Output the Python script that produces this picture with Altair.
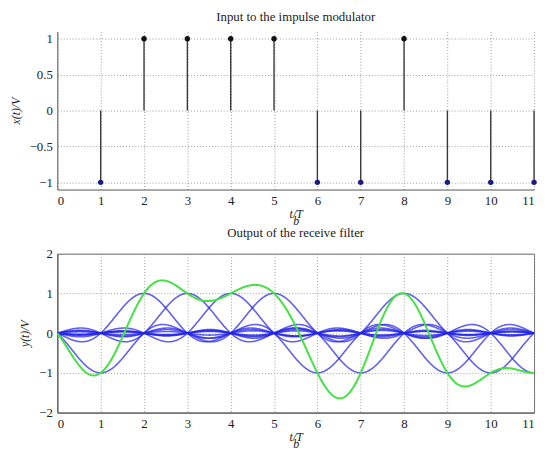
import altair as alt
import numpy as np
import pandas as pd

# ---- data ----
symbol_times = [1, 2, 3, 4, 5, 6, 7, 8, 9, 10, 11]
symbols = [-1, 1, 1, 1, 1, -1, -1, 1, -1, -1, -1]
x_ticks = [0, 1, 2, 3, 4, 5, 6, 7, 8, 9, 10, 11]
y_ticks_top = [-1, -0.5, 0, 0.5, 1]
y_ticks_bottom = [-2, -1, 0, 1, 2]

# receive-filter output: each symbol drives an ideal (sinc) pulse; the green curve is their sum
t_grid = np.round(np.linspace(0, 11, 1101), 4)
pulse_rows = []
total = np.zeros_like(t_grid)
for k, a in zip(symbol_times, symbols):
    p = a * np.sinc(t_grid - k)
    total += p
    pulse_rows.append(pd.DataFrame({"t": t_grid, "y": p, "k": k}))
df_pulses = pd.concat(pulse_rows, ignore_index=True)
df_sum = pd.DataFrame({"t": t_grid, "y": total})
df_sym = pd.DataFrame({"t": symbol_times, "a": symbols, "zero": 0})

FONT = "Liberation Serif"
xscale = alt.Scale(domain=[0, 11], nice=False, zero=False)

def xaxis(title):
    return alt.Axis(values=x_ticks, tickCount=len(x_ticks), title=title, format="d", grid=True,
                    titleLineHeight=7, titlePadding=1, labelPadding=5)

def yaxis(vals, title):
    return alt.Axis(values=vals, tickCount=len(vals), title=title, grid=True, titlePadding=7,
                    labelExpr="replace(datum.value + '', '-', '\u2212')", labelOverlap=False)

xtitle = ["t/T", "\u00a0\u00a0\u00a0\u00a0\u00a0b"]

# ---- top panel ----
ytop = alt.Scale(domain=[-1.1, 1.1], nice=False)
stems = alt.Chart(df_sym).mark_rule(color="#3a3a3a", strokeWidth=1.4).encode(
    x=alt.X("t:Q", scale=xscale, axis=xaxis(xtitle)),
    y=alt.Y("zero:Q", scale=ytop, axis=yaxis(y_ticks_top, "x(t)/V")),
    y2="a:Q",
)
heads = alt.Chart(df_sym).mark_circle(size=30, opacity=1).encode(
    x=alt.X("t:Q", scale=xscale),
    y=alt.Y("a:Q", scale=ytop),
    color=alt.Color("a:N", scale=alt.Scale(domain=[-1, 1], range=["#1c1c80", "#111111"]), legend=None),
)
top = alt.layer(stems, heads).properties(
    width=483, height=160,
    title=alt.TitleParams("Input to the impulse modulator", offset=8),
)

# ---- bottom panel ----
ybot = alt.Scale(domain=[-2, 2], nice=False)
pulses = alt.Chart(df_pulses).mark_line(color="#2626e6", strokeWidth=1.6, opacity=0.72).encode(
    x=alt.X("t:Q", scale=xscale, axis=xaxis(xtitle)),
    y=alt.Y("y:Q", scale=ybot, axis=yaxis(y_ticks_bottom, "y(t)/V")),
    detail="k:N",
)
summ = alt.Chart(df_sum).mark_line(color="#45e045", strokeWidth=2).encode(
    x=alt.X("t:Q", scale=xscale),
    y=alt.Y("y:Q", scale=ybot),
)
bottom = alt.layer(pulses, summ).properties(
    width=483, height=161,
    title=alt.TitleParams("Output of the receive filter", offset=8),
    view=alt.ViewBackground(stroke="#666666", strokeWidth=1),
)

chart = alt.vconcat(top, bottom, spacing=0).properties(
    padding={"left": 1, "top": 0, "right": 0, "bottom": 0}
).configure_view(stroke=None).configure_axis(
    labelFont=FONT, labelFontSize=13, labelColor="#222222",
    titleFont=FONT, titleFontSize=12, titleFontStyle="italic", titleFontWeight="normal",
    titleColor="#222222",
    gridColor="#9a9a9a", gridDash=[1, 2], gridWidth=1,
    domainColor="#555555", tickSize=0, labelPadding=5, labelOverlap=False,
).configure_title(
    font=FONT, fontSize=13, fontWeight="normal", color="#222222", anchor="middle"
)

chart.save("out.html", embed_options={"renderer": "svg", "actions": False})
